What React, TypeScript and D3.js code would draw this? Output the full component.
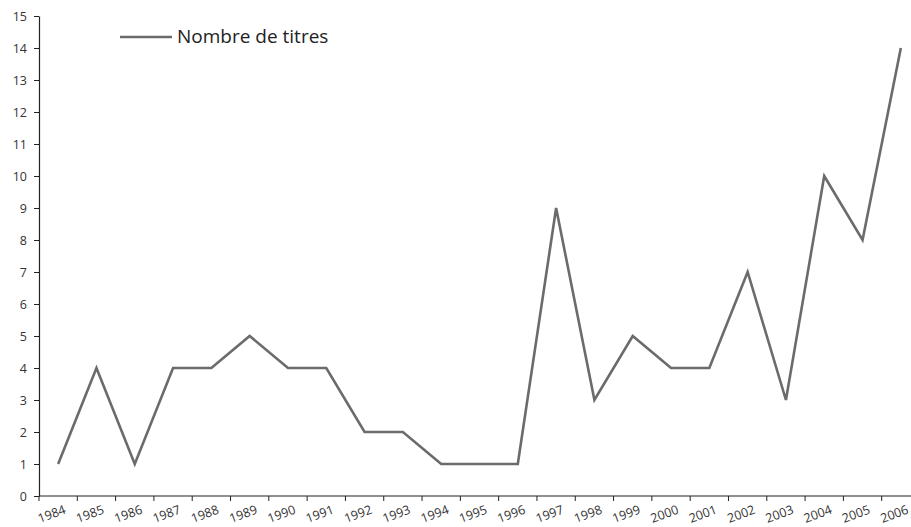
import React, { useEffect, useRef } from 'react';
import * as d3 from 'd3';

// data
const years = ['1984', '1985', '1986', '1987', '1988', '1989', '1990', '1991', '1992', '1993', '1994', '1995',
  '1996', '1997', '1998', '1999', '2000', '2001', '2002', '2003', '2004', '2005', '2006'];
const titres = [1, 4, 1, 4, 4, 5, 4, 4, 2, 2, 1, 1, 1, 9, 3, 5, 4, 4, 7, 3, 10, 8, 14];
const yTicks = d3.range(0, 16);
const seriesName = 'Nombre de titres';

const W = 911, H = 527;
const FONT = '"Open Sans", Lato, sans-serif';
const LINE = '#6b6b6b';

const App = () => {
  const ref = useRef<SVGSVGElement>(null);

  useEffect(() => {
    const svg = d3.select(ref.current);
    svg.selectAll('*').remove();

    const x = d3.scaleBand().domain(years).range([39, 920]);
    const y = d3.scaleLinear().domain([0, 15]).range([496, 16]);

    // y axis
    const ya = svg.append('g')
      .attr('transform', 'translate(39,0)')
      .call(d3.axisLeft(y).tickValues(yTicks).tickSize(5).tickPadding(7).tickSizeOuter(0));
    ya.select('.domain').attr('stroke', '#222').attr('stroke-width', 1.2);
    ya.selectAll('.tick line').attr('stroke', '#222');
    ya.selectAll('text').attr('font-family', FONT).attr('font-size', 12.5).attr('fill', '#333');

    // x axis, ticks at band edges
    const xa = svg.append('g').attr('transform', 'translate(0,496)');
    xa.append('line').attr('x1', 39).attr('x2', 920).attr('stroke', '#222').attr('stroke-width', 1.2);
    const edges = years.map(d => x(d)!);
    xa.selectAll('line.tk').data(edges).enter().append('line')
      .attr('class', 'tk')
      .attr('x1', d => d).attr('x2', d => d)
      .attr('y1', 0).attr('y2', 5)
      .attr('stroke', '#222');
    xa.selectAll('text').data(years).enter().append('text')
      .attr('transform', d => `translate(${x(d)! + x.bandwidth() / 2 - 5},22) rotate(-20)`)
      .attr('text-anchor', 'middle')
      .attr('font-family', FONT).attr('font-size', 12.5).attr('fill', '#333')
      .text(d => d);

    // line
    const line = d3.line<number>()
      .x((d, i) => x(years[i])! + x.bandwidth() / 2)
      .y(d => y(d));
    svg.append('path').datum(titres)
      .attr('d', line)
      .attr('fill', 'none')
      .attr('stroke', LINE)
      .attr('stroke-width', 2.6)
      .attr('stroke-linejoin', 'miter');

    // legend
    const lg = svg.append('g').attr('transform', 'translate(120,37)');
    lg.append('line').attr('x1', 0).attr('x2', 52).attr('stroke', LINE).attr('stroke-width', 2.6);
    lg.append('text').attr('x', 57).attr('y', 6)
      .attr('font-family', FONT).attr('font-size', 19).attr('fill', '#222')
      .text(seriesName);
  }, []);

  return (
    <svg ref={ref} width={W} height={H} style={{ position: 'absolute', left: 0, top: 0, background: '#fff' }} />
  );
};

export default App;
